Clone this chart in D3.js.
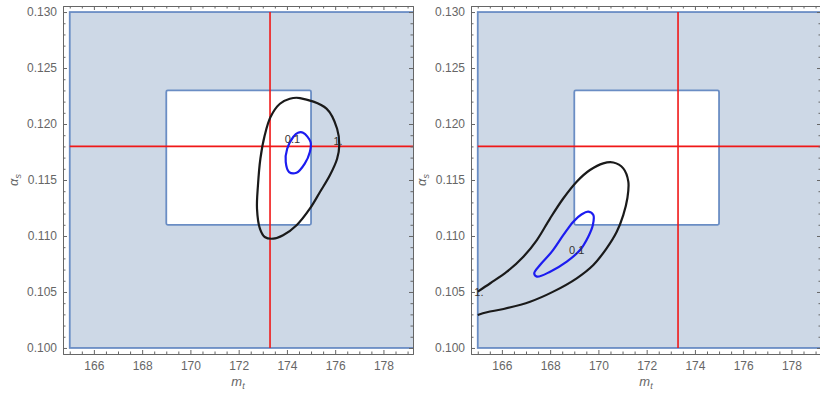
<!DOCTYPE html>
<html><head><meta charset="utf-8">
<script src="https://cdn.jsdelivr.net/npm/d3@7"></script>
<style>
body{margin:0;background:#fff;}
svg{display:block;font-family:"Liberation Sans",Arial,sans-serif;}
</style>
</head><body>
<svg id="chart" width="820" height="393"></svg>
<script>
// ---- data ----
const xTicks = [166, 168, 170, 172, 174, 176, 178];
const yTicks = [0.100, 0.105, 0.110, 0.115, 0.120, 0.125, 0.130];
const regionX = [165, 180];
const regionY = [0.100, 0.130];
const innerX = [169, 175];
const innerY = [0.111, 0.123];
const refMt = 173.3;
const refAlpha = 0.118;

const leftContour1 = [
  [174.54,0.12232],[175.64,0.12137],[176.08,0.11958],[176.17,0.1181],[176.08,0.1169],
  [175.78,0.11542],[175.37,0.11393],[174.95,0.11244],[174.40,0.11096],[173.84,0.11006],
  [173.43,0.10976],[173.08,0.10991],[172.88,0.11065],[172.76,0.11244],[172.80,0.11453],
  [172.90,0.1169],[173.08,0.11899],[173.32,0.12063],[173.71,0.12181],[174.12,0.12226]
];
const leftContour01 = [
  [174.67,0.11922],[174.98,0.11839],[174.95,0.1175],[174.74,0.11646],[174.40,0.11565],
  [174.09,0.11571],[173.95,0.11661],[174.01,0.11779],[174.26,0.11884],[174.46,0.11922]
];
const rightContour1 = [
  [165.00,0.10503],[165.52,0.10578],[166.21,0.10681],[166.89,0.10815],[167.45,0.10964],
  [168.00,0.11158],[168.55,0.11337],[169.10,0.11485],[169.65,0.11589],[170.20,0.11649],
  [170.62,0.11656],[171.03,0.11604],[171.24,0.11485],[171.20,0.11337],[171.03,0.11187],
  [170.76,0.11038],[170.34,0.10890],[169.79,0.10741],[169.10,0.10622],[168.13,0.10503],
  [167.17,0.10413],[166.07,0.10348],[165.38,0.10319],[165.00,0.10295]
];
const rightContour01 = [
  [169.58,0.11217],[169.79,0.11187],[169.77,0.11098],[169.58,0.10994],[169.24,0.10875],
  [168.69,0.10771],[168.00,0.10681],[167.45,0.10637],[167.34,0.10667],[167.58,0.10741],
  [168.07,0.10860],[168.55,0.11009],[168.96,0.11128],[169.31,0.11194]
];
const leftLabels = [["0.1",174.23,0.11869],["1.",176.12,0.11846]];
const rightLabels = [["0.1",169.10,0.10875],["1.",165.05,0.10498]];

// ---- layout ----
const svg = d3.select("#chart");
const W = 350, yTop = 6, yBot = 354;
const panels = [
  {x0: 63, c1: leftContour1, c1closed: true, c01: leftContour01, labels: leftLabels},
  {x0: 471, c1: rightContour1, c1closed: false, c01: rightContour01, labels: rightLabels}
];
const xMinor = d3.range(165, 179.01, 0.5).filter(v => !xTicks.includes(v));
const yMinor = d3.range(100, 130.5, 1).map(v => v/1000).filter(v => !yTicks.some(t => Math.abs(t - v) < 1e-9));

panels.forEach((p, i) => {
  const x = d3.scaleLinear().domain([164.72, 179.225]).range([p.x0, p.x0 + W]);
  const y = d3.scaleLinear().domain([0.09946, 0.13054]).range([yBot, yTop]);
  const g = svg.append("g");
  const clipId = "clip" + i;
  g.append("clipPath").attr("id", clipId).append("rect")
    .attr("x", p.x0).attr("y", yTop).attr("width", W).attr("height", yBot - yTop);
  const plot = g.append("g").attr("clip-path", `url(#${clipId})`);

  // region (outside rectangle)
  plot.append("rect")
    .attr("x", x(regionX[0])).attr("y", y(regionY[1]))
    .attr("width", x(regionX[1]) - x(regionX[0])).attr("height", y(regionY[0]) - y(regionY[1]))
    .attr("fill", "#cdd8e6").attr("stroke", "#6a8dc4").attr("stroke-width", 1.8);
  plot.append("rect")
    .attr("x", x(innerX[0])).attr("y", y(innerY[1]))
    .attr("width", x(innerX[1]) - x(innerX[0])).attr("height", y(innerY[0]) - y(innerY[1]))
    .attr("rx", 1.5)
    .attr("fill", "#ffffff").attr("stroke", "#6a8dc4").attr("stroke-width", 1.8);

  // reference lines
  plot.append("line").attr("x1", x(refMt)).attr("x2", x(refMt))
    .attr("y1", y(regionY[0])).attr("y2", y(regionY[1]))
    .attr("stroke", "#f01818").attr("stroke-width", 1.6);
  plot.append("line").attr("x1", x(regionX[0])).attr("x2", x(regionX[1]))
    .attr("y1", y(refAlpha)).attr("y2", y(refAlpha))
    .attr("stroke", "#f01818").attr("stroke-width", 1.6);

  // contours
  const lineClosed = d3.line().x(d => x(d[0])).y(d => y(d[1])).curve(d3.curveCatmullRomClosed.alpha(0.5));
  const lineOpen = d3.line().x(d => x(d[0])).y(d => y(d[1])).curve(d3.curveCatmullRom.alpha(0.5));
  plot.append("path").attr("d", (p.c1closed ? lineClosed : lineOpen)(p.c1))
    .attr("fill", "none").attr("stroke", "#1a1a1a").attr("stroke-width", 2.2);
  plot.append("path").attr("d", lineClosed(p.c01))
    .attr("fill", "none").attr("stroke", "#1c1cf0").attr("stroke-width", 2.2);

  // contour labels
  plot.selectAll("text.lab").data(p.labels).join("text")
    .attr("x", d => x(d[1])).attr("y", d => y(d[2]))
    .attr("text-anchor", "middle").attr("dy", "0.35em")
    .attr("font-size", 11).attr("fill", "#333").text(d => d[0]);

  // axes (ticks inward)
  const styleAxis = sel => {
    sel.selectAll("path.domain").attr("stroke", "#666");
    sel.selectAll(".tick line").attr("stroke", "#666");
    sel.selectAll("text").attr("fill", "#666").attr("font-size", 12);
  };
  g.append("g").attr("transform", `translate(0,${yBot})`)
    .call(d3.axisBottom(x).tickValues(xTicks).tickFormat(d3.format("d")).tickSizeInner(-4).tickSizeOuter(0).tickPadding(7)).call(styleAxis);
  g.append("g").attr("transform", `translate(0,${yBot})`)
    .call(d3.axisBottom(x).tickValues(xMinor).tickFormat("").tickSizeInner(-2.5).tickSizeOuter(0)).call(styleAxis);
  g.append("g").attr("transform", `translate(0,${yTop})`)
    .call(d3.axisTop(x).tickValues(xTicks).tickFormat("").tickSizeInner(-4).tickSizeOuter(0)).call(styleAxis);
  g.append("g").attr("transform", `translate(0,${yTop})`)
    .call(d3.axisTop(x).tickValues(xMinor).tickFormat("").tickSizeInner(-2.5).tickSizeOuter(0)).call(styleAxis);
  g.append("g").attr("transform", `translate(${p.x0},0)`)
    .call(d3.axisLeft(y).tickValues(yTicks).tickFormat(d3.format(".3f")).tickSizeInner(-4).tickSizeOuter(0).tickPadding(6)).call(styleAxis);
  g.append("g").attr("transform", `translate(${p.x0},0)`)
    .call(d3.axisLeft(y).tickValues(yMinor).tickFormat("").tickSizeInner(-2.5).tickSizeOuter(0)).call(styleAxis);
  g.append("g").attr("transform", `translate(${p.x0 + W},0)`)
    .call(d3.axisRight(y).tickValues(yTicks).tickFormat("").tickSizeInner(-4).tickSizeOuter(0)).call(styleAxis);
  g.append("g").attr("transform", `translate(${p.x0 + W},0)`)
    .call(d3.axisRight(y).tickValues(yMinor).tickFormat("").tickSizeInner(-2.5).tickSizeOuter(0)).call(styleAxis);

  // axis titles
  const xt = g.append("text").attr("x", p.x0 + W / 2).attr("y", 386)
    .attr("text-anchor", "middle").attr("font-size", 13).attr("fill", "#666").attr("font-style", "italic");
  xt.append("tspan").text("m");
  xt.append("tspan").attr("font-size", 9).attr("dy", 2.5).text("t");
  const yt = g.append("text").attr("transform", `translate(${p.x0 - 45},${(yTop + yBot) / 2}) rotate(-90)`)
    .attr("text-anchor", "middle").attr("font-size", 13).attr("fill", "#666").attr("font-style", "italic");
  yt.append("tspan").text("α");
  yt.append("tspan").attr("font-size", 9).attr("dy", 2.5).text("s");
});
</script>
</body></html>
